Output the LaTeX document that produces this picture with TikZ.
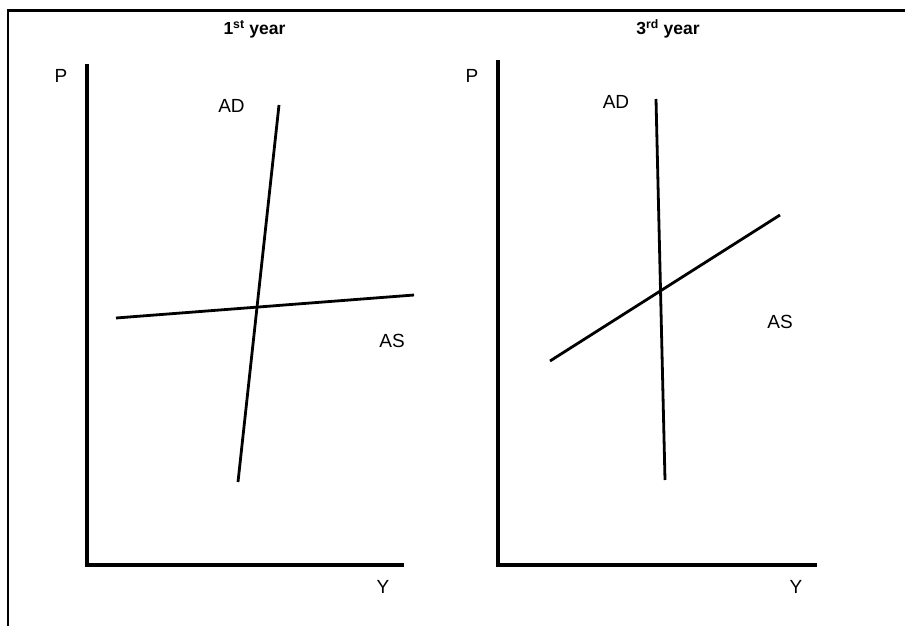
\documentclass[tikz,border=0pt]{standalone}
\usepackage{fontspec}
\setmainfont{Liberation Sans}
\begin{document}
\begin{tikzpicture}[x=1pt,y=-1pt,
  axis/.style={line width=3.4pt},
  curve/.style={line width=2.8pt},
  lbl/.style={inner sep=0pt,font=\fontsize{19}{21}\selectfont},
  ttl/.style={inner sep=0pt,font=\fontsize{17.5}{19}\selectfont\bfseries}]
\useasboundingbox (0,0) rectangle (905,626);
% frame
\coordinate (fTR) at (905,10.5);
\coordinate (fTL) at (8,10.5);
\coordinate (fBL) at (8,626);
\draw[line width=2.5pt] (fTR) -- (fTL) -- (fBL);
% titles
\node[ttl] (t1) at (254.5,29) {1\textsuperscript{st} year};
\node[ttl] (t3) at (668,29) {3\textsuperscript{rd} year};
% left panel axes
\coordinate (lTop) at (87,64);
\coordinate (lO) at (87,565);
\coordinate (lRight) at (404,565);
\draw[axis] (lTop) -- (lO) -- (lRight);
\node[lbl] (lP) at (61,76) {P};
\node[lbl] (lY) at (383,587) {Y};
% left curves
\coordinate (lADt) at (279,105);
\coordinate (lADb) at (238,482);
\coordinate (lASl) at (116,318);
\coordinate (lASr) at (414,295);
\draw[curve] (lADt) -- (lADb);
\draw[curve] (lASl) -- (lASr);
\node[lbl] (lAD) at (231.5,106) {AD};
\node[lbl] (lAS) at (392,340.5) {AS};
% right panel axes
\coordinate (rTop) at (498,60);
\coordinate (rO) at (498,565);
\coordinate (rRight) at (817,565);
\draw[axis] (rTop) -- (rO) -- (rRight);
\node[lbl] (rP) at (472,76) {P};
\node[lbl] (rY) at (796,587) {Y};
% right curves
\coordinate (rADt) at (656,99);
\coordinate (rADb) at (665,480);
\coordinate (rASl) at (550,361);
\coordinate (rASr) at (780,215);
\draw[curve] (rADt) -- (rADb);
\draw[curve] (rASl) -- (rASr);
\node[lbl] (rAD) at (616,102) {AD};
\node[lbl] (rAS) at (780,322) {AS};
\end{tikzpicture}
\end{document}
